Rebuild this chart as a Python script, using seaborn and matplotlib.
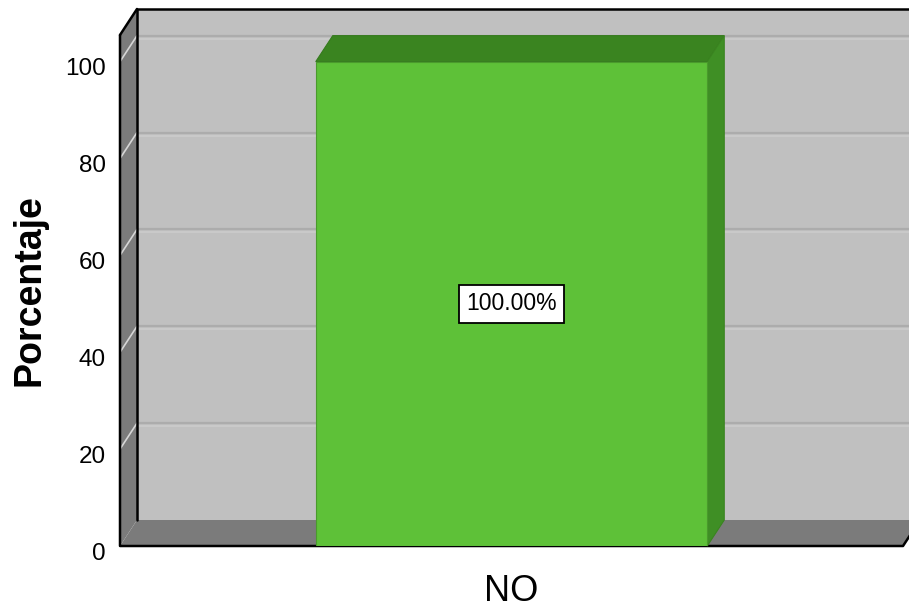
import numpy as np
import seaborn as sns
import matplotlib.pyplot as plt
import matplotlib.transforms as mtransforms
from matplotlib.patches import Polygon

# data
categories = ['NO']
porcentaje = [100.0]
etiquetas = ['100.00%']
yticks = [0, 20, 40, 60, 80, 100]

sns.set_style('white')
plt.rcParams['font.family'] = ['Liberation Sans', 'DejaVu Sans']
plt.rcParams['text.color'] = 'black'
plt.rcParams['xtick.color'] = 'black'
plt.rcParams['ytick.color'] = 'black'
plt.rcParams['axes.labelcolor'] = 'black'

fig = plt.figure(figsize=(9.09, 6.08), dpi=100)
ax = fig.add_axes([120 / 909, 62 / 608, 783 / 909, 511 / 608])
ax.patch.set_visible(False)

sns.barplot(x=categories, y=porcentaje, color='#5ec138', width=1.0,
            saturation=1, edgecolor='#4a9a2c', linewidth=0.8, ax=ax, zorder=5)
ax.set_xlim(-1, 1)
ax.set_ylim(0, 105.5)

# depth offset of the 3d box, in pixels
DX, DY = 17, 26
to_fig = fig.transFigure.inverted()


def fig_poly(points, **kw):
    # points given in display pixels
    pts = to_fig.transform(np.array(points, dtype=float))
    p = Polygon(pts, closed=True, transform=fig.transFigure, clip_on=False, **kw)
    ax.add_patch(p)
    return p


def fig_line(points, **kw):
    pts = to_fig.transform(np.array(points, dtype=float))
    ax.plot(pts[:, 0], pts[:, 1], transform=fig.transFigure, clip_on=False, **kw)


def px(x, y):
    return ax.transData.transform((x, y))


x0, x1 = ax.get_xlim()
y0, y1 = ax.get_ylim()
bl, tl = px(x0, y0), px(x0, y1)
br, tr = px(x1, y0), px(x1, y1)
off = np.array([DX, DY])
far = np.array([60, 0])

# back wall
fig_poly([bl + off, br + off + far, tr + off + far, tl + off],
         facecolor='#c0c0c0', edgecolor='none', zorder=0)
# left wall and floor
fig_poly([bl, bl + off, tl + off, tl], facecolor='#7b7b7b', edgecolor='none', zorder=1)
fig_poly([bl, br, br + off, bl + off], facecolor='#7b7b7b', edgecolor='none', zorder=1)

# grid lines on back wall and left wall
for t in yticks[1:]:
    f = px(x0, t)
    b = f + off
    fig_line([b, b + [900, 0]], color='#acacac', lw=1.6, zorder=0.5)
    fig_line([b - [0, 3], b + [900, -3]], color='#cbcbcb', lw=1.2, zorder=0.5)
    fig_line([f, b], color='#d6d6d6', lw=1.2, zorder=1.5)

# frame lines
frame_kw = dict(color='black', lw=1.8, zorder=2)
fig_line([bl + off, tl + off, tr + off + far], **frame_kw)
fig_line([tl, tl + off], **frame_kw)
fig_line([tl, bl, br, br + off], **frame_kw)

# 3d faces of each bar, from the bar geometry
for bar, lab in zip(ax.patches, etiquetas):
    bx, bw, bh = bar.get_x(), bar.get_width(), bar.get_height()
    fl, fr = px(bx, bh), px(bx + bw, bh)
    br0 = px(bx + bw, 0)
    fig_poly([fl, fr, fr + off, fl + off], facecolor='#3a8420', edgecolor='#347a1c',
             lw=0.8, zorder=4)
    fig_poly([br0, fr, fr + off, br0 + off], facecolor='#3f8f25', edgecolor='#3a8420',
             lw=0.8, zorder=4)
    ax.text(bx + bw / 2, bh / 2, lab, ha='center', va='center', fontsize=16.5, zorder=6,
            bbox=dict(boxstyle='square,pad=0.33', facecolor='white', edgecolor='black', lw=1.3))

for s in ax.spines.values():
    s.set_visible(False)

ax.set_yticks(yticks)
ax.tick_params(axis='y', length=0, pad=10, labelsize=17.5)
ax.tick_params(axis='x', length=0, pad=20, labelsize=26)
shift = mtransforms.ScaledTranslation(0, -5 / 100, fig.dpi_scale_trans)
for lbl in ax.get_yticklabels():
    lbl.set_transform(lbl.get_transform() + shift)
ax.set_xlabel('')
ax.set_ylabel('Porcentaje', fontsize=27, fontweight='bold', labelpad=13)

fig.savefig('out.png', dpi=100)
